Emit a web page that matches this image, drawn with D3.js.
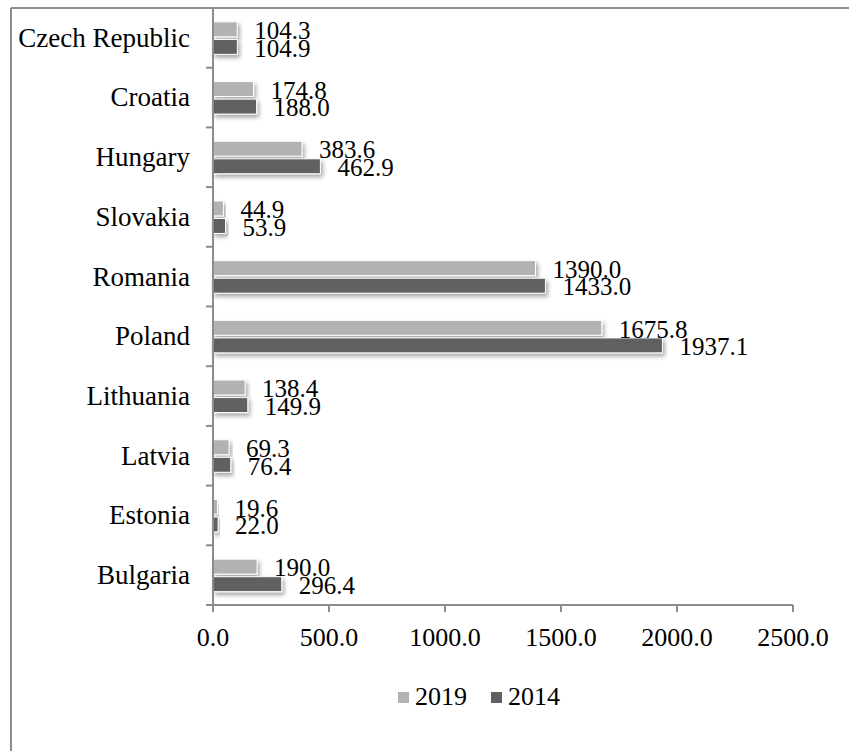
<!DOCTYPE html>
<html><head><meta charset="utf-8">
<script src="https://cdn.jsdelivr.net/npm/d3@7"></script>
<style>body{margin:0;background:#fff}svg{display:block}text{font-family:"Liberation Serif","Times New Roman",serif;fill:#000}</style>
</head><body>
<script>
const categories = ["Czech Republic","Croatia","Hungary","Slovakia","Romania","Poland","Lithuania","Latvia","Estonia","Bulgaria"];
const series = ["2019","2014"];
const values2019 = [104.3,174.8,383.6,44.9,1390.0,1675.8,138.4,69.3,19.6,190.0];
const values2014 = [104.9,188.0,462.9,53.9,1433.0,1937.1,149.9,76.4,22.0,296.4];
const xTicks = [0,500,1000,1500,2000,2500];
const colors = {"2019":"#b2b2b2","2014":"#606060"};

const W=849,H=751;
const svg=d3.select("body").append("svg").attr("width",W).attr("height",H);
const defs=svg.append("defs");
const f=defs.append("filter").attr("id","sh").attr("x","-20%").attr("y","-50%").attr("width","140%").attr("height","250%");
f.append("feDropShadow").attr("dx",2).attr("dy",3).attr("stdDeviation",2).attr("flood-color","#000").attr("flood-opacity",0.35);

// outer border (left & top)
svg.append("line").attr("x1",11).attr("x2",11).attr("y1",8).attr("y2",H).attr("stroke","#8c8c8c").attr("stroke-width",2);
svg.append("line").attr("x1",11).attr("x2",W).attr("y1",8).attr("y2",8).attr("stroke","#8c8c8c").attr("stroke-width",2);

const x=d3.scaleLinear().domain([0,2500]).range([213,793]);
const y=d3.scaleBand().domain(categories).range([8,605]).padding(0);
const ys=d3.scaleBand().domain(series).range([-16,16.5]).paddingInner(0.15);

const data=categories.map((c,i)=>({c,v:{"2019":values2019[i],"2014":values2014[i]}}));

const g=svg.append("g");
const rows=g.selectAll("g.row").data(data).join("g").attr("transform",d=>`translate(0,${y(d.c)+y.bandwidth()/2})`);
series.forEach(s=>{
  rows.append("rect").attr("x",x(0)).attr("y",ys(s)).attr("width",d=>x(d.v[s])-x(0)).attr("height",ys.bandwidth())
    .attr("fill",colors[s]).attr("stroke","#fff").attr("stroke-width",1).attr("filter","url(#sh)");
});
series.forEach(s=>{
  rows.append("text").attr("x",d=>x(d.v[s])+17).attr("y",ys(s)+ys.bandwidth()/2+1).attr("dy","0.35em")
    .attr("font-size",25).text(d=>d3.format(".1f")(d.v[s]));
});

// y axis
const yAx=svg.append("g").attr("transform",`translate(${x(0)},0)`);
yAx.append("line").attr("x1",0).attr("x2",0).attr("y1",8).attr("y2",605).attr("stroke","#8c8c8c").attr("stroke-width",2);
const bounds=categories.map(c=>y(c)+y.bandwidth());
yAx.selectAll("line.t").data(bounds).join("line").attr("class","t").attr("x1",-7).attr("x2",0).attr("y1",d=>d).attr("y2",d=>d).attr("stroke","#8c8c8c").attr("stroke-width",2);
svg.selectAll("text.cat").data(categories).join("text").attr("class","cat").attr("x",190).attr("y",d=>y(d)+y.bandwidth()/2).attr("dy","0.33em")
  .attr("text-anchor","end").attr("font-size",27).text(d=>d);

// x axis
const xAx=svg.append("g").attr("transform","translate(0,605)");
xAx.append("line").attr("x1",x(0)).attr("x2",x(2500)).attr("y1",0).attr("y2",0).attr("stroke","#8c8c8c").attr("stroke-width",2);
xAx.selectAll("line.t").data(xTicks).join("line").attr("class","t").attr("x1",d=>x(d)).attr("x2",d=>x(d)).attr("y1",0).attr("y2",7).attr("stroke","#8c8c8c").attr("stroke-width",2);
xAx.selectAll("text").data(xTicks).join("text").attr("x",d=>x(d)).attr("y",41).attr("text-anchor","middle").attr("font-size",26).text(d=>d3.format(".1f")(d));

// legend
const lg=svg.append("g");
const lx=[398,491];
series.forEach((s,i)=>{
  lg.append("rect").attr("x",lx[i]).attr("y",692).attr("width",11).attr("height",11).attr("fill",colors[s]);
  lg.append("text").attr("x",lx[i]+17).attr("y",705).attr("font-size",26).text(s);
});
</script>
</body></html>
